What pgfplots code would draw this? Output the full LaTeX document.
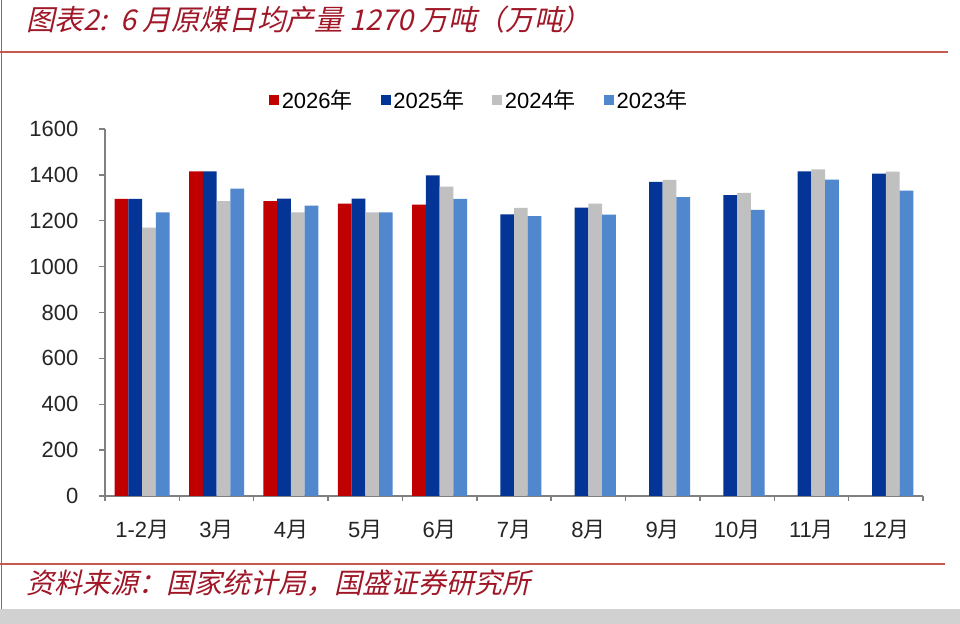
\documentclass[border=0pt]{standalone}
\usepackage{pgfplots}
\pgfplotsset{compat=1.18}
\usepackage{fontspec}
\setmainfont{Liberation Sans}
\newfontfamily\cjk{Noto Sans CJK SC}
\newfontfamily\cjkit[FakeSlant=0.22]{Noto Sans CJK SC}

\definecolor{cRed}{RGB}{192,0,0}
\definecolor{cNavy}{RGB}{4,52,150}
\definecolor{cGray}{RGB}{192,192,192}
\definecolor{cSky}{RGB}{80,135,205}
\definecolor{cTitle}{RGB}{160,24,40}
\definecolor{cRule}{RGB}{196,90,80}

\begin{document}
\begin{tikzpicture}
\path[use as bounding box, fill=white] (0,0) rectangle (720pt,468pt);
% header and footer
\node[anchor=west, text=cTitle, font=\cjkit\fontsize{21.5}{25}\selectfont] at (16pt,453pt)
  {图表2:\ \ 6 月原煤日均产量 1270 万吨（万吨）};
\draw[cRule, line width=1.1pt] (0pt,429pt) -- (711pt,429pt);
\draw[cRule, line width=1.1pt] (0pt,45pt) -- (709pt,45pt);
\node[anchor=west, text=cTitle, font=\cjkit\fontsize{21}{25}\selectfont] at (16pt,30.5pt)
  {资料来源：国家统计局，国盛证券研究所};
\fill[black!18] (0pt,0pt) rectangle (720pt,11pt);
\draw[black!55, line width=0.6pt] (1pt,11pt) -- (1pt,468pt);

\begin{axis}[
  at={(78.75pt,96pt)}, anchor=south west,
  scale only axis,
  width=613.5pt, height=275.25pt,
  ybar=0pt, bar width=10.3pt,
  xmin=-0.5, xmax=10.5,
  ymin=0, ymax=1600,
  ytick={0,200,...,1600},
  xtick={0,...,10},
  xticklabels={1-2{\cjk 月},3{\cjk 月},4{\cjk 月},5{\cjk 月},6{\cjk 月},7{\cjk 月},8{\cjk 月},9{\cjk 月},10{\cjk 月},11{\cjk 月},12{\cjk 月}},
  minor xtick={-0.5,0.5,...,10.5},
  major x tick style={draw=none},
  axis x line*=bottom, axis y line*=left,
  axis line style={black!50, line width=1.1pt},
  every tick/.style={black!50, line width=1.1pt},
  tick align=outside,
  major tick length=4.5pt, minor tick length=3.5pt,
  ticklabel style={font=\fontsize{16.5}{19}\selectfont, text=black!85},
  /pgf/number format/assume math mode=true,
  /pgf/number format/1000 sep={},
  x tick label style={yshift=-10pt},
  y tick label style={xshift=-12pt},
  legend style={at={(0.458,1.079)}, anchor=center, draw=none, fill=none,
    legend columns=4, font=\fontsize{16.5}{19}\selectfont,
    /tikz/every even column/.append style={column sep=19pt}},
  legend image code/.code={\fill[#1] (0pt,-3.75pt) rectangle (7.5pt,3.75pt);},
]
\addplot[fill=cRed, draw=none] coordinates {(0,1295) (1,1415) (2,1285) (3,1275) (4,1270)};
\addplot[fill=cNavy, draw=none] coordinates {(0,1295) (1,1415) (2,1296) (3,1296) (4,1398) (5,1228) (6,1257) (7,1369) (8,1312) (9,1415) (10,1405)};
\addplot[fill=cGray, draw=none] coordinates {(0,1170) (1,1285) (2,1237) (3,1237) (4,1349) (5,1256) (6,1275) (7,1378) (8,1321) (9,1424) (10,1414)};
\addplot[fill=cSky, draw=none] coordinates {(0,1237) (1,1340) (2,1266) (3,1237) (4,1295) (5,1220) (6,1227) (7,1303) (8,1247) (9,1379) (10,1331)};
\legend{2026{\cjk 年},2025{\cjk 年},2024{\cjk 年},2023{\cjk 年}}
\end{axis}
\end{tikzpicture}
\end{document}
